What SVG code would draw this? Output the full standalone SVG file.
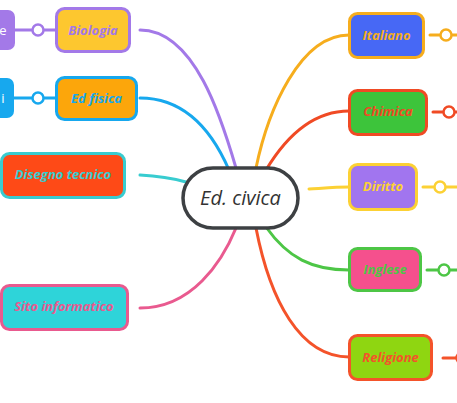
<svg xmlns="http://www.w3.org/2000/svg" width="457" height="403" viewBox="0 0 457 403">
<style>
.lbl{font-family:"Open Sans","DejaVu Sans",sans-serif;font-style:italic;font-weight:bold;font-size:13px;text-anchor:middle;dominant-baseline:central}
.box{stroke-width:3}
.con{fill:none;stroke-width:3;stroke-linecap:round}
.dot{fill:#fff;stroke-width:2.5}
</style>
<rect width="457" height="403" fill="#fff"/>
<g id="connectors">
<path class="con" stroke="#a379e8" d="M140,30 C195,30 222,120 236,168"/>
<path class="con" stroke="#17a8ee" d="M140,98 C190,98 216,140 229,170"/>
<path class="con" stroke="#38ccd0" d="M140,175 C160,176 172,178 186,182"/>
<path class="con" stroke="#e95a8f" d="M140,308 C192,308 222,262 236,228"/>
<path class="con" stroke="#f6ad1d" d="M349,35 C300,35 268,110 256,168"/>
<path class="con" stroke="#f04a24" d="M349,111 C310,111 284,140 266,170"/>
<path class="con" stroke="#fcd134" d="M309,189 C325,188 337,187 349,187"/>
<path class="con" stroke="#4dc646" d="M266,227 C288,258 312,270 349,270"/>
<path class="con" stroke="#f4532a" d="M256,228 C270,300 300,357 349,357"/>
<!-- side links -->
<path class="con" stroke="#a379e8" d="M15,30 H56"/>
<circle class="dot" stroke="#a379e8" cx="38" cy="30" r="5.5"/>
<path class="con" stroke="#17a8ee" d="M14,98 H56"/>
<circle class="dot" stroke="#17a8ee" cx="38" cy="98" r="5.5"/>
<path class="con" stroke="#f6ad1d" d="M430,35 H457"/>
<circle class="dot" stroke="#f6ad1d" cx="446" cy="35" r="5.5"/>
<path class="con" stroke="#f04a24" d="M433,112 H457"/>
<circle class="dot" stroke="#f04a24" cx="449" cy="112" r="5.5"/>
<path class="con" stroke="#fcd134" d="M423,187 H457"/>
<circle class="dot" stroke="#fcd134" cx="440" cy="187" r="5.5"/>
<path class="con" stroke="#4dc646" d="M427,270 H457"/>
<circle class="dot" stroke="#4dc646" cx="444" cy="270" r="5.5"/>
<path class="con" stroke="#f4532a" d="M443,358 H457"/>
<circle class="dot" stroke="#f4532a" cx="462" cy="358" r="5.5"/>
</g>
<g id="center">
<rect x="183" y="168" width="115" height="60" rx="30" fill="#fff" stroke="#3d4043" stroke-width="3.5"/>
<text class="lbl" x="240.5" y="197" style="font-size:20px;font-weight:normal" fill="#333">Ed. civica</text>
</g>
<g id="left-e">
<rect x="-12" y="10" width="27" height="40" rx="7" fill="#a379e8"/>
<text class="lbl" x="3" y="30" fill="#fff" style="font-style:normal;font-weight:normal">e</text>
</g>
<g id="left-i">
<rect x="-12" y="78" width="26" height="40" rx="7" fill="#17a8ee"/>
<text class="lbl" x="3" y="98" fill="#fff" style="font-style:normal;font-weight:normal">i</text>
</g>
<g id="biologia">
<rect class="box" x="56.5" y="8.5" width="73" height="43" rx="8" fill="#fdc72f" stroke="#a379e8"/>
<text class="lbl" x="93" y="30" fill="#a379e8">Biologia</text>
</g>
<g id="edfisica">
<rect class="box" x="56.5" y="77.5" width="80" height="42" rx="8" fill="#fca60b" stroke="#17a8ee"/>
<text class="lbl" x="96.5" y="98" fill="#17a8ee">Ed fisica</text>
</g>
<g id="disegno">
<rect class="box" x="1.5" y="153.5" width="123" height="44" rx="8" fill="#fe4a17" stroke="#38ccd0"/>
<text class="lbl" x="63" y="174" fill="#38ccd0">Disegno tecnico</text>
</g>
<g id="sito">
<rect class="box" x="1.5" y="285.5" width="126" height="44" rx="8" fill="#2ed4d9" stroke="#e95a8f"/>
<text class="lbl" x="64" y="306" fill="#e95a8f">Sito informatico</text>
</g>
<g id="italiano">
<rect class="box" x="349.5" y="13.5" width="74" height="44" rx="8" fill="#4768f5" stroke="#f6ad1d"/>
<text class="lbl" x="386.5" y="35" fill="#f6ad1d">Italiano</text>
</g>
<g id="chimica">
<rect class="box" x="349.5" y="90.5" width="77" height="44" rx="8" fill="#3dc43b" stroke="#f04a24"/>
<text class="lbl" x="388" y="111" fill="#f04a24">Chimica</text>
</g>
<g id="diritto">
<rect class="box" x="349.5" y="164.5" width="67" height="45" rx="8" fill="#a175ef" stroke="#fcd134"/>
<text class="lbl" x="383" y="186" fill="#fcd134">Diritto</text>
</g>
<g id="inglese">
<rect class="box" x="349.5" y="248.5" width="71" height="42" rx="8" fill="#f5508d" stroke="#4dc646"/>
<text class="lbl" x="385" y="269" fill="#4dc646">Inglese</text>
</g>
<g id="religione">
<rect class="box" x="349.5" y="335.5" width="82" height="44" rx="8" fill="#8fd611" stroke="#f4532a"/>
<text class="lbl" x="390.5" y="357" fill="#f4532a">Religione</text>
</g>
</svg>
